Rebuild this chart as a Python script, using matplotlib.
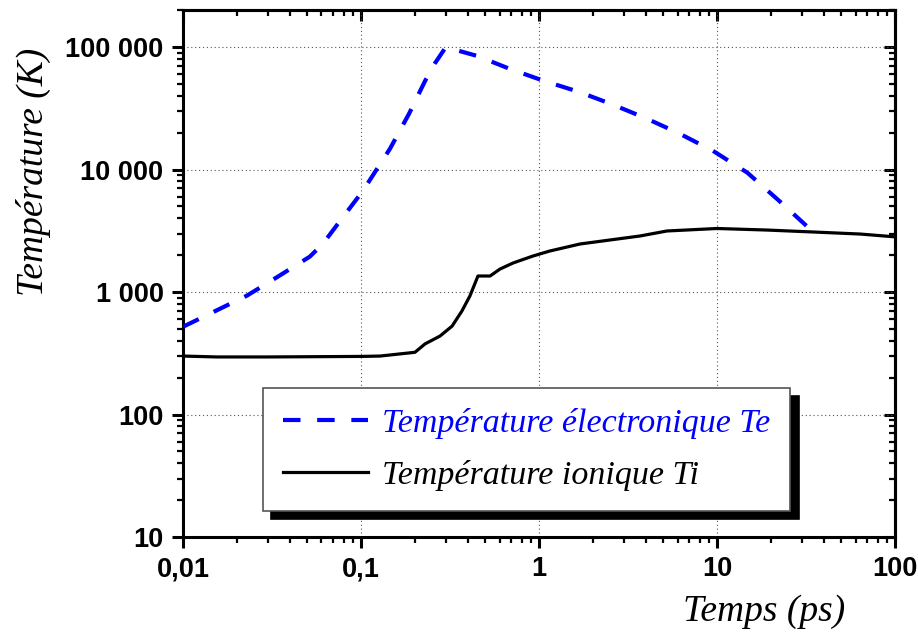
import matplotlib
matplotlib.use('Agg')
import matplotlib.pyplot as plt
from matplotlib.ticker import LogLocator, NullFormatter

# temps (ps) / temperature electronique Te (K)
t_e = [0.01, 0.0229, 0.0342, 0.0516, 0.0612, 0.0743, 0.1026, 0.1455, 0.186,
       0.229, 0.261, 0.30, 0.365, 0.449, 0.687, 1.07, 1.68, 2.54, 3.94, 6.04,
       9.5, 14.8, 22.3, 34.6]
Te = [520, 935, 1337, 1944, 2483, 3614, 6710, 14770, 28450,
      52800, 74100, 100000, 92000, 84600, 66200, 52800, 43000, 34300, 26400, 19900,
      14200, 9420, 5560, 3100]

# temps (ps) / temperature ionique Ti (K)
t_i = [0.01, 0.0155, 0.0297, 0.101, 0.128, 0.201, 0.229, 0.278, 0.325, 0.369,
       0.409, 0.454, 0.531, 0.604, 0.715, 0.925, 1.15, 1.70, 3.69, 5.23,
       10.0, 19.1, 34.6, 63.5, 100.0]
Ti = [300, 295, 295, 298, 300, 322, 377, 437, 527, 700,
      927, 1351, 1351, 1540, 1725, 1967, 2161, 2466, 2866, 3149,
      3300, 3205, 3090, 2974, 2820]

y_ticks = [10, 100, 1000, 10000, 100000]
y_labels = ['10', '100', '1 000', '10 000', '100 000']
x_ticks = [0.01, 0.1, 1, 10, 100]
x_labels = ['0,01', '0,1', '1', '10', '100']

serif = ['Liberation Serif', 'DejaVu Serif']
sans = ['Liberation Sans', 'DejaVu Sans']

fig = plt.figure(figsize=(9.18, 6.34), dpi=100)
ax = fig.add_axes([0.1993, 0.153, 0.7757, 0.831])

ax.set_xscale('log')
ax.set_yscale('log')
ax.set_xlim(0.01, 100)
ax.set_ylim(10, 2e5)

ax.grid(True, which='major', linestyle=(0, (1, 2.5)), color='#555555', linewidth=0.8)
ax.set_axisbelow(True)

ax.plot(t_e, Te, color='#0000FF', linewidth=3.0, linestyle=(0, (4.2, 4.0)),
        label='Température électronique Te', zorder=3)
ax.plot(t_i, Ti, color='black', linewidth=2.3, label='Température ionique Ti', zorder=3)

ax.set_xticks(x_ticks, labels=x_labels)
ax.set_yticks(y_ticks, labels=y_labels)
ax.xaxis.set_minor_locator(LogLocator(base=10, subs=range(2, 10), numticks=20))
ax.yaxis.set_minor_locator(LogLocator(base=10, subs=range(2, 10), numticks=20))
ax.xaxis.set_minor_formatter(NullFormatter())
ax.yaxis.set_minor_formatter(NullFormatter())

for lab in ax.get_xticklabels() + ax.get_yticklabels():
    lab.set_fontfamily(sans)
    lab.set_fontweight('bold')
    lab.set_fontsize(19.5)

ax.tick_params(which='major', direction='out', length=8, width=2.2, pad=6)
ax.tick_params(which='minor', direction='out', length=4.5, width=1.6)

for s in ax.spines.values():
    s.set_linewidth(2.2)

# mirrored ticks pointing inward on top and right
secx = ax.secondary_xaxis('top')
secx.tick_params(which='major', direction='in', length=8, width=2.2, labeltop=False)
secx.tick_params(which='minor', direction='in', length=4.5, width=1.6)
secx.xaxis.set_minor_locator(LogLocator(base=10, subs=range(2, 10), numticks=20))
secx.xaxis.set_major_locator(LogLocator(base=10, numticks=20))
secx.xaxis.set_minor_formatter(NullFormatter())
secx.spines['top'].set_linewidth(2.2)

secy = ax.secondary_yaxis('right')
secy.tick_params(which='major', direction='in', length=8, width=2.2, labelright=False)
secy.tick_params(which='minor', direction='in', length=4.5, width=1.6)
secy.yaxis.set_minor_locator(LogLocator(base=10, subs=range(2, 10), numticks=20))
secy.yaxis.set_major_locator(LogLocator(base=10, numticks=20))
secy.yaxis.set_minor_formatter(NullFormatter())
secy.spines['right'].set_linewidth(2.2)

ax.set_xlabel('Temps (ps)', fontfamily=serif, style='italic', fontsize=27)
ax.xaxis.set_label_coords(0.816, -0.108)
ax.set_ylabel('Température (K)', fontfamily=serif, style='italic', fontsize=27)
ax.yaxis.set_label_coords(-0.186, 0.693)

leg = ax.legend(loc='upper left', bbox_to_anchor=(0.112, 0.283), borderaxespad=0,
                fancybox=False, framealpha=1, edgecolor='#555555',
                shadow={'ox': 6, 'oy': -6, 'color': 'black', 'alpha': 1},
                prop={'family': serif, 'style': 'italic', 'size': 24.5},
                handlelength=2.5, handletextpad=0.4, labelspacing=0.6,
                borderpad=0.6)
leg.get_frame().set_linewidth(1.2)
leg.get_texts()[0].set_color('#0000FF')

fig.savefig('out.png', dpi=100)
